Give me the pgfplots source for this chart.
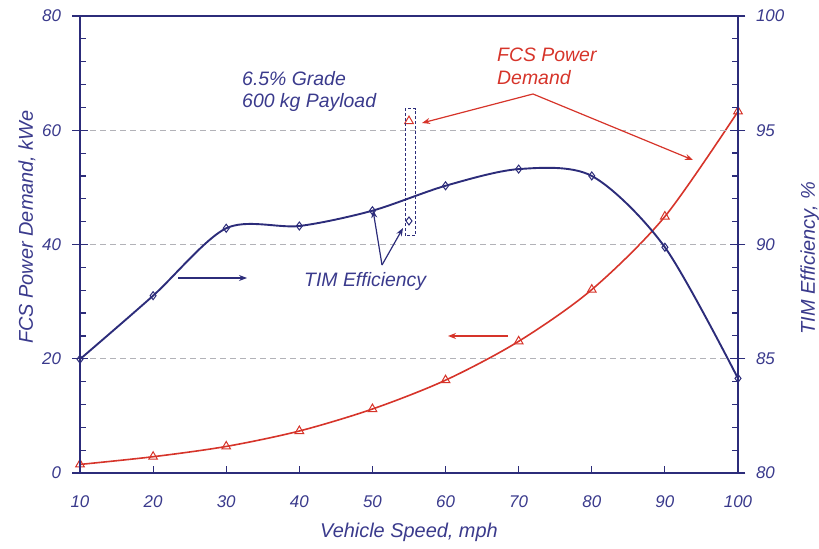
\documentclass[border=0pt]{standalone}
\usepackage{fontspec}
\setmainfont{Liberation Sans}
\usepackage{pgfplots}
\pgfplotsset{compat=1.18}
\usetikzlibrary{arrows.meta}
\definecolor{navy}{RGB}{44,44,122}
\definecolor{navytext}{RGB}{58,58,140}
\definecolor{fcsred}{RGB}{214,52,42}
\definecolor{gridgray}{RGB}{178,178,184}
\begin{document}
\begin{tikzpicture}
\pgfplotsset{
  common/.style={
    scale only axis, width=658bp, height=457bp,
    at={(0,0)}, anchor=south west,
    xmin=10, xmax=100,
    axis line style={navy, line width=1.3bp},
    every tick/.style={navy, line width=1.2bp},
    /pgf/number format/assume math mode=true,
    tick label style={font=\itshape\fontsize{17}{17}\selectfont, text=navytext},
  }
}
\begin{axis}[common,
  ymin=0, ymax=80,
  xtick=\empty, ytick={0,20,...,80},
  minor y tick num=4,
  ytick pos=left,
  tick align=center, major tick length=15bp, minor tick length=6bp,
  minor y tick style={xshift=3bp},
  yticklabel style={xshift=-8bp},
  ymajorgrids, grid style={gridgray, line width=0.8bp, dash pattern=on 6bp off 4bp},
  axis on top,
  xlabel={Vehicle Speed, mph},
  ylabel={FCS Power Demand, kWe},
  every axis x label/.style={at={([yshift=-64bp]axis description cs:0.5,0)}, anchor=base,
    font=\itshape\fontsize{20}{20}\selectfont, text=navytext},
  every axis y label/.style={at={([xshift=-47bp]axis description cs:0,0.538)}, rotate=90, anchor=base,
    font=\itshape\fontsize{20}{20}\selectfont, text=navytext},
]
\addplot[fcsred, line width=1.6bp, smooth, mark=triangle, mark size=5bp, mark options={fill=white, line width=1bp}]
  coordinates {(10,1.5)(20,2.85)(30,4.65)(40,7.35)(50,11.2)(60,16.25)(70,23.05)(80,32.1)(90,44.9)(100,63.3)};
\addplot[only marks, fcsred, mark=triangle, mark size=5bp, mark options={fill=white, line width=1bp}]
  coordinates {(55,61.6)};
\end{axis}
% x ticks (short, inside) and their labels
\begin{axis}[common,
  ymin=0, ymax=80,
  ytick=\empty,
  xtick={10,20,...,100},
  xtick pos=bottom,
  tick align=inside, major tick length=7bp,
  xticklabel style={yshift=-19bp},
]
\end{axis}
\begin{axis}[common,
  ymin=80, ymax=100,
  axis x line=none, axis y line*=right,
  ytick={80,85,...,100}, minor y tick num=4,
  ytick pos=right,
  tick align=center, major tick length=15bp, minor tick length=6bp,
  minor y tick style={xshift=-3bp},
  yticklabel style={xshift=7bp},
  ylabel={TIM Efficiency, \%},
  every axis y label/.style={at={([xshift=77bp]axis description cs:1,0.47)}, rotate=90, anchor=base,
    font=\itshape\fontsize{20}{20}\selectfont, text=navytext},
]
\addplot[navy, line width=1.9bp, smooth, mark=diamond, mark size=4bp, mark options={fill=white, line width=1bp}]
  coordinates {(10,84.98)(20,87.76)(30,90.71)(40,90.81)(50,91.48)(60,92.57)(70,93.3)(80,93.0)(90,89.88)(100,84.14)};
\addplot[only marks, navy, mark=diamond, mark size=4bp, mark options={fill=white, line width=1bp}]
  coordinates {(55,91.03)};
\end{axis}
% annotations (origin = axis south west, 1bp = 1px)
\begin{scope}[font=\itshape\fontsize{19.5}{19.5}\selectfont]
\node[anchor=base west, text=navytext, inner sep=0] at (162bp,387bp) {6.5\% Grade};
\node[anchor=base west, text=navytext, inner sep=0] at (162bp,365bp) {600 kg Payload};
\node[anchor=base west, text=fcsred, inner sep=0] at (417bp,411bp) {FCS Power};
\node[anchor=base west, text=fcsred, inner sep=0] at (417bp,388bp) {Demand};
\node[anchor=base west, text=navytext, inner sep=0] at (224bp,186bp) {TIM Efficiency};
\end{scope}
\draw[fcsred, line width=1.2bp, -{Stealth[length=8bp,width=6bp]}] (453bp,379bp) -- (342bp,350bp);
\draw[fcsred, line width=1.2bp, -{Stealth[length=8bp,width=6bp]}] (453bp,379bp) -- (613bp,313bp);
\draw[navy, line width=1.2bp, -{Stealth[length=8bp,width=6bp]}] (302bp,208bp) -- (293bp,263bp);
\draw[navy, line width=1.2bp, -{Stealth[length=8bp,width=6bp]}] (302bp,208bp) -- (323bp,245bp);
\draw[navy, line width=1.2bp, -{Stealth[length=8bp,width=6bp]}] (98bp,195bp) -- (167bp,195bp);
\draw[fcsred, line width=1.2bp, -{Stealth[length=8bp,width=6bp]}] (428bp,137bp) -- (368bp,137bp);
\draw[navy, line width=1bp, dash pattern=on 3bp off 2bp] (325bp,237bp) rectangle (335.5bp,364bp);
\pgfresetboundingbox
\path[use as bounding box] (-80bp,-76bp) rectangle (739bp,473bp);
\end{tikzpicture}
\end{document}
